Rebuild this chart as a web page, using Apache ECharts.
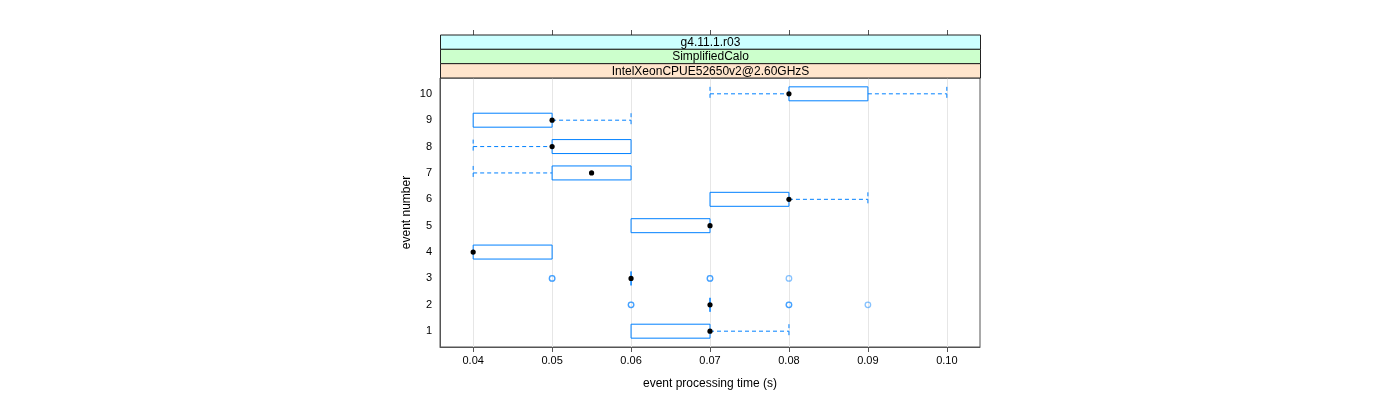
<!DOCTYPE html>
<html>
<head>
<meta charset="utf-8">
<script src="https://cdn.jsdelivr.net/npm/echarts@6/dist/echarts.min.js"></script>
<style>html,body{margin:0;padding:0;background:#fff}#c{width:1400px;height:400px}</style>
</head>
<body>
<div id="c"></div>
<script>
// ---- data ----
const events        = [1, 2, 3, 4, 5, 6, 7, 8, 9, 10];
const lowerWhisker  = [0.06, 0.07, 0.06, 0.04, 0.06, 0.07, 0.04, 0.04, 0.04, 0.07];
const q1            = [0.06, 0.07, 0.06, 0.04, 0.06, 0.07, 0.05, 0.05, 0.04, 0.08];
const medians       = [0.07, 0.07, 0.06, 0.04, 0.07, 0.08, 0.055, 0.05, 0.05, 0.08];
const q3            = [0.07, 0.07, 0.06, 0.05, 0.07, 0.08, 0.06, 0.06, 0.05, 0.09];
const upperWhisker  = [0.08, 0.07, 0.06, 0.05, 0.07, 0.09, 0.06, 0.06, 0.06, 0.10];
const outlierEvent  = [2, 2, 2, 2, 2, 3, 3, 3, 3, 3];
const outlierTime   = [0.06, 0.06, 0.08, 0.08, 0.09, 0.05, 0.05, 0.07, 0.07, 0.08];
const xTicks        = [0.04, 0.05, 0.06, 0.07, 0.08, 0.09, 0.10];
const yTicks        = [1, 2, 3, 4, 5, 6, 7, 8, 9, 10];
const stripLabels   = ['g4.11.1.r03', 'SimplifiedCalo', 'IntelXeonCPUE52650v2@2.60GHzS'];
const stripColors   = ['#ccffff', '#ccffcc', '#ffe5cc'];
const xTitle = 'event processing time (s)';
const yTitle = 'event number';

// ---- build ----
const BLUE = '#0080ff';
const FONT = '"Liberation Sans", Arial, sans-serif';
const boxRows = events.map((e, i) => [e, lowerWhisker[i], q1[i], medians[i], q3[i], upperWhisker[i]]);
const outliers = outlierEvent.map((e, i) => [outlierTime[i], e]);

function renderBox(params, api) {
  const y = api.value(0);
  const lo = api.value(1), a = api.value(2), m = api.value(3), b = api.value(4), hi = api.value(5);
  const pLo = api.coord([lo, y]), pA = api.coord([a, y]), pM = api.coord([m, y]);
  const pB = api.coord([b, y]), pHi = api.coord([hi, y]);
  const h = api.size([0, 1])[1] * 0.53;
  const dashed = { stroke: BLUE, lineWidth: 1, lineDash: [4, 3], fill: null };
  const ch = [];
  if (lo < a) {
    ch.push({ type: 'line', shape: { x1: pLo[0], y1: pLo[1], x2: pA[0], y2: pA[1] }, style: dashed });
    ch.push({ type: 'line', shape: { x1: pLo[0], y1: pLo[1] - h / 2, x2: pLo[0], y2: pLo[1] + h / 2 }, style: dashed });
  }
  if (hi > b) {
    ch.push({ type: 'line', shape: { x1: pB[0], y1: pB[1], x2: pHi[0], y2: pHi[1] }, style: dashed });
    ch.push({ type: 'line', shape: { x1: pHi[0], y1: pHi[1] - h / 2, x2: pHi[0], y2: pHi[1] + h / 2 }, style: dashed });
  }
  ch.push({ type: 'rect', shape: { x: pA[0], y: pA[1] - h / 2, width: pB[0] - pA[0], height: h },
            style: { fill: 'rgba(0,0,0,0)', stroke: BLUE, lineWidth: 1 } });
  ch.push({ type: 'circle', shape: { cx: pM[0], cy: pM[1], r: 2.6 }, style: { fill: '#000' } });
  return { type: 'group', children: ch };
}

const gridL = 440, gridR = 980, gridT = 78, gridB = 347;
const stripTop = 35;
const stripH = (gridT - stripTop) / stripLabels.length;
const graphics = [];
stripLabels.forEach((t, i) => {
  graphics.push({
    type: 'rect',
    shape: { x: gridL + 0.5, y: stripTop + i * stripH, width: gridR - gridL, height: stripH },
    style: { fill: stripColors[i], stroke: '#222', lineWidth: 1 },
    z: 10
  });
  graphics.push({
    type: 'text',
    x: (gridL + gridR) / 2 + 0.5, y: stripTop + (i + 0.5) * stripH + 0.5,
    style: { text: t, font: '12px ' + FONT, fill: '#000', textAlign: 'center', textVerticalAlign: 'middle',
             align: 'center', verticalAlign: 'middle' },
    z: 11
  });
});

const chart = echarts.init(document.getElementById('c'), null, { renderer: 'canvas' });
chart.setOption({
  animation: false,
  backgroundColor: '#fff',
  textStyle: { fontFamily: FONT },
  grid: { left: gridL, right: 1400 - gridR, top: gridT, bottom: 400 - gridB, show: true,
          borderColor: '#555', borderWidth: 1, backgroundColor: 'transparent' },
  xAxis: [{
    type: 'value', min: 0.0358, max: 0.1042, position: 'bottom',
    name: xTitle, nameLocation: 'middle', nameGap: 31,
    nameTextStyle: { fontSize: 12, color: '#000', fontFamily: FONT },
    axisLine: { show: true, onZero: false, lineStyle: { color: '#555' } },
    axisTick: { show: true, length: 5, customValues: xTicks, lineStyle: { color: '#555' } },
    axisLabel: { customValues: xTicks, fontSize: 11, color: '#000', margin: 8, fontFamily: FONT,
                 formatter: v => v.toFixed(2) },
    splitLine: { show: true, lineStyle: { color: '#e6e6e6', width: 1 } }
  }, {
    type: 'value', min: 0.0358, max: 0.1042, position: 'top', offset: gridT - stripTop,
    axisLine: { show: false },
    axisTick: { show: true, length: 5, customValues: xTicks, lineStyle: { color: '#555' } },
    axisLabel: { show: false },
    splitLine: { show: false }
  }],
  yAxis: {
    type: 'value', min: 0.4, max: 10.6,
    name: yTitle, nameLocation: 'middle', nameGap: 27, nameRotate: 90,
    nameTextStyle: { fontSize: 12, color: '#000', fontFamily: FONT },
    axisLine: { show: true, lineStyle: { color: '#555' } },
    axisTick: { show: false, customValues: yTicks },
    axisLabel: { customValues: yTicks, fontSize: 11, color: '#000', margin: 8, fontFamily: FONT },
    splitLine: { show: false }
  },
  graphic: graphics,
  series: [{
    type: 'custom',
    renderItem: renderBox,
    data: boxRows,
    encode: { x: [1, 2, 3, 4, 5], y: 0 },
    z: 3
  }, {
    type: 'scatter',
    data: outliers,
    symbol: 'circle',
    symbolSize: 5.5,
    itemStyle: { color: 'rgba(255,255,255,0)', borderColor: 'rgba(0,128,255,0.6)', borderWidth: 1.3 },
    z: 4
  }]
});
</script>
</body>
</html>
